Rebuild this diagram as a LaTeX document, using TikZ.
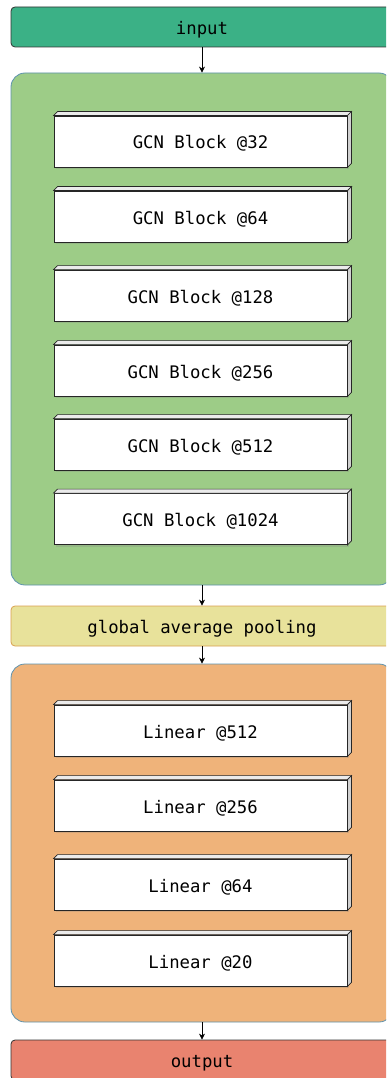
\documentclass[tikz,border=0pt]{standalone}
\usepackage{fontspec}
\setmonofont{DejaVu Sans Mono}
\usetikzlibrary{arrows.meta,calc,shadows}
\definecolor{inputgreen}{HTML}{3BB186}
\definecolor{gcnbg}{HTML}{9DCC87}
\definecolor{poolbg}{HTML}{E8E29B}
\definecolor{poolline}{HTML}{D9A050}
\definecolor{linbg}{HTML}{EFB37A}
\definecolor{outred}{HTML}{E9836F}
\definecolor{frameline}{HTML}{5E93AE}
\tikzset{
  io/.style={draw=black!80, line width=0.8pt, rounded corners=4pt,
    minimum width=382pt, minimum height=40pt, text height=15pt, text depth=0pt,
    font=\ttfamily\fontsize{17.3}{19}\selectfont},
  group/.style={draw=frameline, line width=0.8pt, rounded corners=14pt,
    minimum width=382pt},
  slab/.style={draw=black!85, line width=0.8pt, fill=white,
    minimum width=293pt, minimum height=51pt, text height=15pt, text depth=0pt,
    font=\ttfamily\fontsize{17.3}{19}\selectfont,
    drop shadow={shadow xshift=2pt, shadow yshift=-2pt, opacity=0.25}},
  flow/.style={-{Stealth[length=6pt,width=6pt]}, line width=0.7pt},
}
% top and right faces of a slab node
\newcommand\slabfaces[1]{%
  \filldraw[fill=black!8, draw=black!85, line width=0.7pt]
    (#1.north west) -- ++(4,-4) -- ($(#1.north east)+(4,-4)$) -- (#1.north east) -- cycle;
  \filldraw[fill=black!18, draw=black!85, line width=0.7pt]
    (#1.north east) -- ++(4,-4) -- ($(#1.south east)+(4,-4)$) -- (#1.south east) -- cycle;
}
\begin{document}
\begin{tikzpicture}[x=1pt,y=-1pt]
\useasboundingbox (0,0) rectangle (386,1078);
\clip (0,0) rectangle (386,1078);

\node[io, fill=inputgreen] (in) at (202,27) {input};

\node[group, fill=gcnbg, minimum height=512pt] (gcn) at (202,329) {};
\node[slab] (g1) at (200.5,141.5) {GCN Block @32};
\node[slab] (g2) at (200.5,216.5) {GCN Block @64};
\node[slab] (g3) at (200.5,295.5) {GCN Block @128};
\node[slab] (g4) at (200.5,370.5) {GCN Block @256};
\node[slab] (g5) at (200.5,444.5) {GCN Block @512};
\node[slab] (g6) at (200.5,519) {GCN Block @1024};
\foreach \n in {g1,g2,g3,g4,g5,g6} {\slabfaces{\n}}

\node[io, draw=poolline, fill=poolbg, line width=0.8pt] (pool) at (202,626) {global average pooling};

\node[group, fill=linbg, minimum height=358pt] (lin) at (202,843) {};
\node[slab] (l1) at (200.5,730.5) {Linear @512};
\node[slab] (l2) at (200.5,805.5) {Linear @256};
\node[slab] (l3) at (200.5,884.5) {Linear @64};
\node[slab] (l4) at (200.5,960.5) {Linear @20};
\foreach \n in {l1,l2,l3,l4} {\slabfaces{\n}}

\node[io, fill=outred] (out) at (202,1060) {output};

\draw[flow] (in.south) -- (gcn.north);
\draw[flow] (gcn.south) -- (pool.north);
\draw[flow] (pool.south) -- (lin.north);
\draw[flow] (lin.south) -- (out.north);
\end{tikzpicture}
\end{document}
